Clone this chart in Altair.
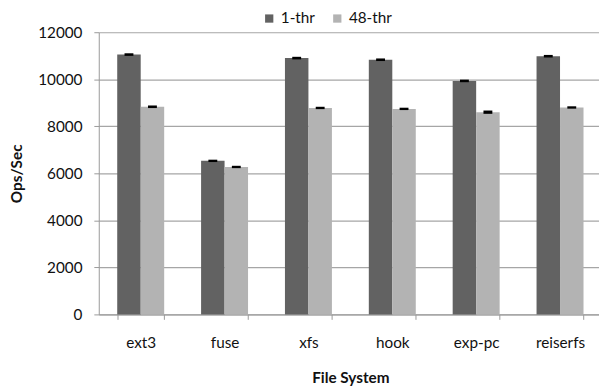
import altair as alt
import pandas as pd

categories = ["ext3", "fuse", "xfs", "hook", "exp-pc", "reiserfs"]
series = ["1-thr", "48-thr"]
one_thr = [11050, 6530, 10900, 10830, 9930, 10980]
forty_eight_thr = [8830, 6270, 8780, 8740, 8600, 8800]
err_one = [55, 50, 55, 55, 55, 55]
err_forty_eight = [55, 50, 50, 50, 70, 50]

rows = []
for i, c in enumerate(categories):
    rows.append({"fs": c, "series": series[0], "ops": one_thr[i], "err": err_one[i]})
    rows.append({"fs": c, "series": series[1], "ops": forty_eight_thr[i], "err": err_forty_eight[i]})
df = pd.DataFrame(rows)
df["lo"] = df["ops"] - df["err"]
df["hi"] = df["ops"] + df["err"]

FONT = "Lato"

x_enc = alt.X(
    "fs:N",
    sort=categories,
    scale=alt.Scale(paddingInner=0.44, paddingOuter=0.22, range=[0, 510]),
    axis=alt.Axis(
        title="File System",
        labelAngle=0,
        tickBand="extent",
        tickSize=5,
        labelPadding=17,
        labelFontSize=15.5,
        titleFontSize=15.5,
        titleFontWeight="bold",
        titlePadding=20,
        domainColor="#999999",
        tickColor="#999999",
        labelColor="#111111",
        titleColor="#111111",
        grid=False,
    ),
)
xo = alt.XOffset("series:N", sort=series, scale=alt.Scale(paddingInner=0, paddingOuter=0))

base = alt.Chart(df)

bars = base.mark_bar(strokeWidth=0).encode(
    x=x_enc,
    xOffset=xo,
    y=alt.Y(
        "ops:Q",
        scale=alt.Scale(domain=[0, 12000], nice=False),
        axis=alt.Axis(
            title="Ops/Sec",
            values=[0, 2000, 4000, 6000, 8000, 10000, 12000],
            format="d",
            tickSize=5,
            labelPadding=12,
            labelFontSize=15.5,
            titleFontSize=15.5,
            titleFontWeight="bold",
            titleX=-83,
            titleY=143,
            titleAngle=-90,
            titleAlign="center",
            titleBaseline="middle",
            domainColor="#999999",
            tickColor="#999999",
            gridColor="#a6a6a6",
            gridWidth=1.2,
            labelColor="#111111",
            titleColor="#111111",
        ),
    ),
    color=alt.Color(
        "series:N",
        sort=series,
        scale=alt.Scale(domain=series, range=["#626262", "#b3b3b3"]),
        legend=alt.Legend(
            title=None,
            orient="none",
            legendX=165,
            legendY=-22,
            direction="horizontal",
            symbolType="square",
            symbolSize=70,
            symbolStrokeWidth=0,
            labelFontSize=15.5,
            labelOffset=4,
            columnPadding=14,
            labelColor="#111111",
        ),
    ),
)

errs = base.mark_bar(color="black", size=9).encode(
    x=alt.X("fs:N", sort=categories),
    xOffset=xo,
    y="lo:Q",
    y2="hi:Q",
)

chart = (
    alt.layer(bars, errs)
    .properties(
        width=507,
        height=286,
        autosize="none",
        padding={"left": 92, "top": 22, "right": 0, "bottom": 70},
    )
    .configure(font=FONT)
    .configure_view(stroke=None)
)

chart.save("out.html", embed_options={"renderer": "svg", "actions": False})
